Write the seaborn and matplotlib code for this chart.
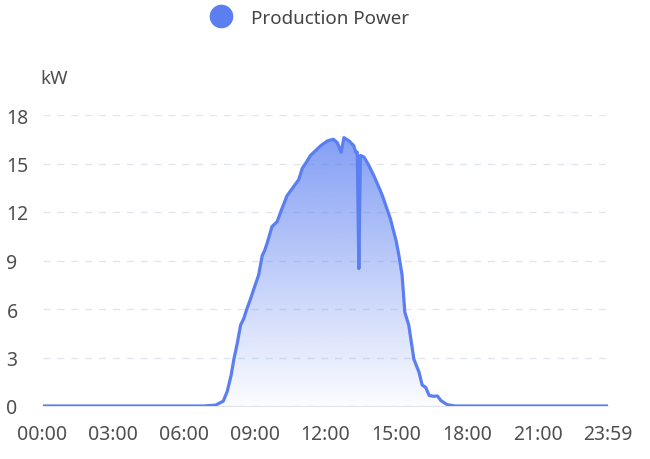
import matplotlib
matplotlib.use('Agg')
import matplotlib.pyplot as plt
from matplotlib.lines import Line2D
import numpy as np
import pandas as pd
import seaborn as sns

# Production power readings
times = ['00:00', '06:50', '07:20', '07:40', '07:50', '08:00', '08:07', '08:15',
         '08:24', '08:32', '08:40', '08:49', '09:00', '09:10', '09:19', '09:25',
         '09:32', '09:44', '09:57', '10:06', '10:22', '10:40', '10:52', '11:01',
         '11:12', '11:22', '11:35', '11:48', '12:05', '12:20', '12:30', '12:40',
         '12:47', '13:00', '13:12', '13:17', '13:21', '13:25', '13:29', '13:38',
         '13:50', '14:04', '14:20', '14:25', '14:45', '15:00', '15:07', '15:15',
         '15:22', '15:32', '15:45', '15:58', '16:06', '16:15', '16:24', '16:36',
         '16:45', '16:54', '17:10', '17:30', '23:59']
power = [0, 0, 0.05, 0.3, 0.9, 1.9, 2.9, 3.8,
         5.0, 5.4, 6.0, 6.6, 7.4, 8.1, 9.3, 9.6,
         10.1, 11.1, 11.4, 12.0, 13.0, 13.6, 14.0, 14.7,
         15.1, 15.5, 15.8, 16.1, 16.4, 16.5, 16.3, 15.7,
         16.6, 16.4, 16.1, 15.7, 15.7, 8.5, 15.5, 15.4,
         14.9, 14.2, 13.3, 13.0, 11.6, 10.2, 9.3, 8.1,
         5.8, 5.0, 2.9, 2.1, 1.3, 1.15, 0.65, 0.6,
         0.62, 0.33, 0.08, 0, 0]

tick_labels = ['00:00', '03:00', '06:00', '09:00', '12:00', '15:00', '18:00', '21:00', '23:59']
y_ticks = [0, 3, 6, 9, 12, 15, 18]

line_color = '#5b7ff1'
grid_color = '#e0e6f1'
text_color = '#4f4f4f'

sns.set_style('white')
plt.rcParams['font.family'] = ['Noto Sans', 'DejaVu Sans']

df = pd.DataFrame({'time': times, 'power': power})
df['minute'] = [int(t[:2]) * 60 + int(t[3:]) for t in df['time']]

fig = plt.figure(figsize=(6.5, 4.6), dpi=100)
ax = fig.add_axes([42.5 / 650, 53 / 460, (608 - 42.5) / 650, (407 - 116) / 460])

# gradient fill under the curve
poly = ax.fill_between(df['minute'], df['power'], 0, facecolor='none', edgecolor='none')
grad = np.zeros((256, 1, 4))
grad[..., 0], grad[..., 1], grad[..., 2] = 0x5b / 255, 0x7f / 255, 0xf1 / 255
grad[:, 0, 3] = np.linspace(0.75, 0.02, 256)
top = max(power)
img = ax.imshow(grad, extent=[0, 1439, 0, top], aspect='auto', origin='upper', zorder=1)
img.set_clip_path(poly.get_paths()[0], transform=ax.transData)

sns.lineplot(data=df, x='minute', y='power', ax=ax, color=line_color, linewidth=2.3, zorder=3)

ax.set_xlim(0, 1439)
ax.set_ylim(0, 18)
ax.set_xticks([0, 180, 360, 540, 720, 900, 1080, 1260, 1439])
ax.set_xticklabels(tick_labels)
ax.set_yticks(y_ticks)
ax.set_yticklabels([str(v) for v in y_ticks])
ax.set_xlabel('')
ax.set_ylabel('')

ax.yaxis.grid(True, color=grid_color, linestyle=(0, (5, 5)), linewidth=1)
ax.set_axisbelow(True)
for s in ['top', 'right', 'left']:
    ax.spines[s].set_visible(False)
ax.spines['bottom'].set_color(grid_color)

ax.tick_params(axis='x', length=4, color=grid_color, labelsize=14, labelcolor=text_color, pad=9)
ax.tick_params(axis='y', length=0, labelsize=14, labelcolor=text_color, pad=26)
for lab in ax.get_yticklabels():
    lab.set_horizontalalignment('left')

fig.text(40 / 650, 1 - 79 / 460, 'kW', fontsize=13.5, color=text_color, va='center', ha='left')

handle = Line2D([], [], marker='o', linestyle='none', markersize=16,
                markerfacecolor=line_color, markeredgecolor=line_color)
fig.legend([handle], ['Production Power'], loc='center', bbox_to_anchor=(306 / 650, 1 - 19 / 460),
           frameon=False, fontsize=13.5, labelcolor='#444444', handletextpad=0.6)

fig.savefig('out.png', dpi=100)
